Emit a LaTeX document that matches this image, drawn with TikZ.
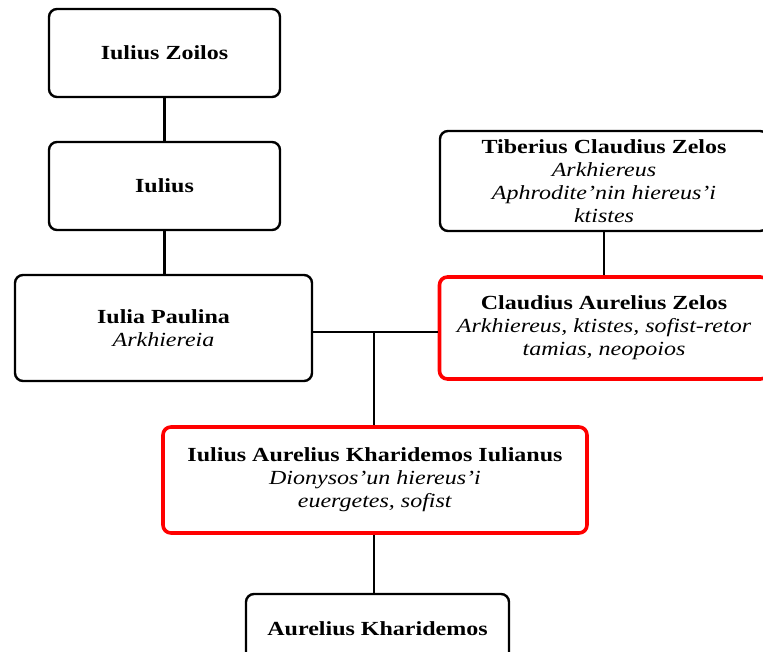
\documentclass[tikz,border=0pt]{standalone}
\usepackage{fontspec}
\setmainfont{Liberation Serif}[FakeStretch=1.2]
\begin{document}
\begin{tikzpicture}[x=1pt,y=-1pt,
  box/.style={draw=black, line width=2.4pt, rounded corners=8pt, align=center, inner sep=0pt,
    font=\fontsize{20}{23}\selectfont},
  redbox/.style={box, draw=red, line width=3.6pt},
  conn/.style={draw=black, line width=2.2pt}]
\useasboundingbox (0,0) rectangle (763,652);
\node[box, minimum width=231pt, minimum height=88pt] (zoilos) at (164.5,53) {\textbf{Iulius Zoilos}};
\node[box, minimum width=231pt, minimum height=88pt] (iulius) at (164.5,186) {\textbf{Iulius}};
\node[box, minimum width=297pt, minimum height=106pt] (paulina) at (163.5,328) {\textbf{Iulia Paulina}\\\textit{Arkhiereia}};
\node[box, minimum width=328pt, minimum height=100pt] (tiberius) at (604,181) {\textbf{Tiberius Claudius Zelos}\\\textit{Arkhiereus}\\\textit{Aphrodite'nin hiereus'i}\\\textit{ktistes}};
\node[redbox, minimum width=329pt, minimum height=102pt] (claudius) at (604,328) {\textbf{Claudius Aurelius Zelos}\\\textit{Arkhiereus, ktistes, sofist-retor}\\\textit{tamias, neopoios}};
\node[redbox, minimum width=424pt, minimum height=106pt] (iulianus) at (375,480) {\textbf{Iulius Aurelius Kharidemos Iulianus}\\\textit{Dionysos'un hiereus'i}\\\textit{euergetes, sofist}};
\node[box, minimum width=263pt, minimum height=80pt] (aurelius) at (377.5,634) {\raisebox{10pt}{\textbf{Aurelius Kharidemos}}};
\coordinate (junc) at (374,332);
\draw[conn] (zoilos.south) -- (iulius.north);
\draw[conn] (iulius.south) -- (iulius.south |- paulina.north);
\draw[conn] (tiberius.south) -- (claudius.north);
\draw[conn] (paulina.east |- junc) -- (claudius.west |- junc);
\draw[conn] (junc) -- (iulianus.north -| junc);
\draw[conn] (iulianus.south -| junc) -- (aurelius.north -| junc);
\end{tikzpicture}
\end{document}
